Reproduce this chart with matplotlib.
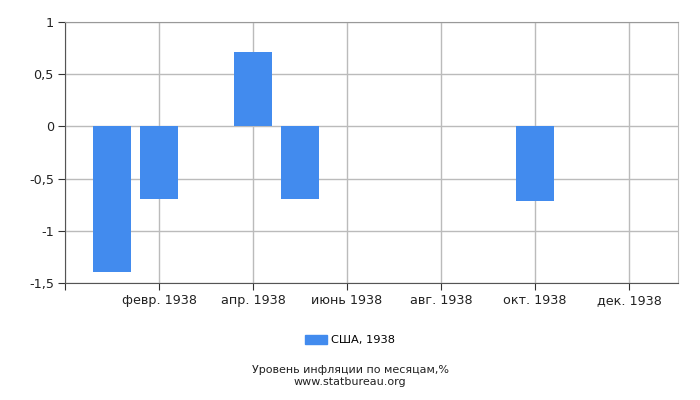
import matplotlib
matplotlib.use("Agg")
import matplotlib.pyplot as plt
from matplotlib.patches import Patch

months = list(range(1, 13))
values = [-1.39, -0.70, 0, 0.71, -0.70, 0, 0, 0, 0, -0.71, 0, 0]
tick_pos = [0, 2, 4, 6, 8, 10, 12]
tick_labels = ["", "февр. 1938", "апр. 1938", "июнь 1938", "авг. 1938", "окт. 1938", "дек. 1938"]
yticks = [-1.5, -1, -0.5, 0, 0.5, 1]
ytick_labels = ["-1,5", "-1", "-0,5", "0", "0,5", "1"]
series_name = "США, 1938"
color = "#428BEE"

fig = plt.figure(figsize=(7, 4), dpi=100)
ax = fig.add_axes([65/700, 1-283/400, (678-65)/700, (283-22)/400])
ax.bar(months, values, width=0.8, color=color, zorder=3)
ax.set_xlim(0, 13.04)
ax.set_ylim(-1.5, 1)
ax.set_xticks(tick_pos)
ax.set_xticklabels(tick_labels, fontsize=9.2, color="#222222")
ax.set_yticks(yticks)
ax.set_yticklabels(ytick_labels, fontsize=9.2, color="#222222")
ax.grid(True, color="#bbbbbb", linewidth=1, zorder=0)
for s in ["top", "right"]:
    ax.spines[s].set_color("#bbbbbb")
ax.spines["top"].set_color("#999999")
for s in ["left", "bottom"]:
    ax.spines[s].set_color("#555555")
ax.tick_params(axis="both", length=5, color="#333333", pad=3)

fig.legend(handles=[Patch(color=color, label=series_name)], loc="center",
           bbox_to_anchor=(0.5, 1-340/400), frameon=False, fontsize=8.2,
           handlelength=1.9, handleheight=0.8, handletextpad=0.4)
fig.text(0.5, 1-370/400, "Уровень инфляции по месяцам,%", ha="center", va="center", fontsize=8, color="#222222")
fig.text(0.5, 1-382/400, "www.statbureau.org", ha="center", va="center", fontsize=8, color="#222222")
fig.savefig("out.png", dpi=100)
